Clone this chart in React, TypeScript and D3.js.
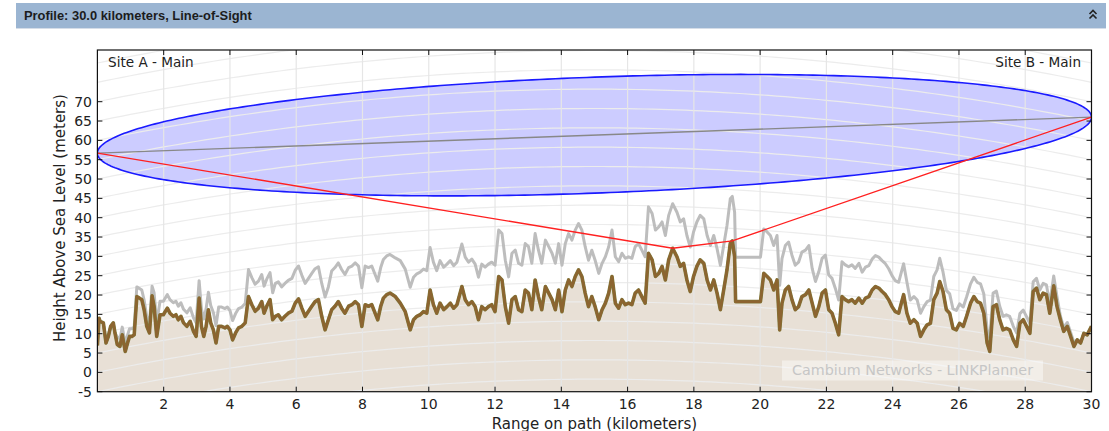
import React, { useEffect, useRef } from "react";
import * as d3 from "d3";

// terrain profile: [range km, height m]
const terrain: [number, number][] = [
  [0, 7.0], [0.05, 14.0], [0.08, 13.2], [0.18, 12.8], [0.26, 7.6], [0.33, 9.3], [0.4, 11.9], [0.48, 12.8],
  [0.53, 10.2], [0.6, 7.2], [0.68, 6.7], [0.75, 9.7], [0.84, 5.4], [0.91, 7.6], [0.97, 9.3], [1.04, 9.3],
  [1.11, 9.7], [1.19, 19.6], [1.27, 19.2], [1.34, 18.8], [1.41, 16.2], [1.49, 11.9], [1.57, 10.2], [1.65, 19.8],
  [1.71, 17.1], [1.79, 9.3], [1.89, 14.9], [1.99, 14.9], [2.11, 16.6], [2.19, 15.3], [2.29, 14.5], [2.37, 14.9],
  [2.44, 13.6], [2.52, 14.5], [2.6, 12.8], [2.7, 11.9], [2.8, 13.2], [2.9, 10.6], [2.98, 9.3], [3.07, 19.2],
  [3.14, 11.9], [3.21, 9.3], [3.28, 11.9], [3.35, 16.2], [3.42, 12.8], [3.5, 11.0], [3.58, 7.6], [3.66, 11.9],
  [3.75, 11.9], [3.85, 11.5], [3.92, 11.9], [4.0, 11.0], [4.08, 8.4], [4.17, 10.2], [4.26, 11.5], [4.36, 11.9],
  [4.46, 12.8], [4.56, 19.6], [4.66, 17.5], [4.76, 15.8], [4.86, 16.6], [4.96, 18.3], [5.03, 15.3], [5.11, 17.1],
  [5.21, 18.8], [5.29, 13.6], [5.37, 14.5], [5.46, 14.9], [5.56, 13.6], [5.66, 14.5], [5.76, 15.3], [5.87, 15.8],
  [5.97, 17.9], [6.07, 19.0], [6.17, 16.6], [6.27, 14.5], [6.37, 15.8], [6.47, 17.1], [6.57, 18.3], [6.67, 18.8],
  [6.77, 14.5], [6.87, 11.0], [6.97, 13.6], [7.07, 16.2], [7.17, 17.1], [7.27, 18.3], [7.37, 16.6], [7.47, 15.3],
  [7.58, 17.1], [7.68, 17.5], [7.78, 18.3], [7.88, 17.5], [7.98, 11.9], [8.08, 17.5], [8.18, 17.1], [8.28, 17.5],
  [8.38, 15.3], [8.46, 13.6], [8.55, 17.1], [8.63, 19.2], [8.73, 20.1], [8.83, 20.5], [8.99, 19.6], [9.14, 17.9],
  [9.29, 15.7], [9.44, 11.0], [9.54, 13.6], [9.64, 14.5], [9.74, 14.9], [9.84, 15.7], [9.94, 15.3], [10.04, 21.3],
  [10.14, 17.5], [10.24, 15.3], [10.34, 17.9], [10.45, 16.2], [10.55, 17.0], [10.65, 17.9], [10.75, 16.6], [10.85, 17.5],
  [11.0, 22.2], [11.1, 18.8], [11.2, 17.5], [11.3, 18.3], [11.4, 17.0], [11.5, 13.6], [11.6, 17.0], [11.7, 16.2],
  [11.8, 17.0], [11.9, 17.5], [12.0, 15.7], [12.11, 24.8], [12.21, 23.9], [12.31, 17.0], [12.41, 12.7], [12.51, 18.8],
  [12.61, 19.6], [12.71, 16.2], [12.81, 15.7], [12.91, 21.3], [13.01, 20.5], [13.11, 16.2], [13.21, 23.9], [13.31, 19.6],
  [13.41, 16.2], [13.52, 22.2], [13.62, 20.5], [13.72, 18.8], [13.82, 16.2], [13.92, 21.3], [14.02, 15.7], [14.12, 21.3],
  [14.22, 23.9], [14.32, 22.2], [14.42, 24.8], [14.52, 26.5], [14.62, 24.8], [14.72, 20.5], [14.82, 17.0], [14.92, 19.6],
  [15.02, 17.0], [15.13, 13.6], [15.23, 16.2], [15.33, 17.9], [15.43, 20.5], [15.53, 24.8], [15.63, 17.9], [15.73, 16.6],
  [15.83, 18.8], [15.93, 17.5], [16.03, 17.9], [16.13, 17.5], [16.23, 20.5], [16.33, 21.3], [16.43, 19.6], [16.53, 17.9],
  [16.63, 30.8], [16.74, 29.1], [16.84, 24.8], [16.94, 25.6], [17.04, 27.4], [17.14, 23.9], [17.24, 29.1], [17.36, 32.1],
  [17.49, 29.9], [17.59, 27.4], [17.69, 28.2], [17.79, 23.9], [17.89, 20.9], [17.99, 24.8], [18.09, 27.4], [18.19, 29.1],
  [18.3, 28.2], [18.4, 23.9], [18.5, 21.3], [18.6, 23.9], [18.7, 20.5], [18.8, 16.2], [18.9, 21.3], [19.0, 26.5],
  [19.1, 33.4], [19.16, 34.0], [19.23, 29.9], [19.26, 18.3], [20.01, 18.3], [20.11, 25.6], [20.21, 24.8], [20.31, 23.9],
  [20.41, 21.3], [20.51, 23.9], [20.59, 11.0], [20.66, 17.9], [20.76, 21.3], [20.86, 22.2], [20.96, 18.8], [21.06, 16.2],
  [21.16, 17.0], [21.26, 19.6], [21.37, 20.1], [21.47, 21.3], [21.57, 17.9], [21.67, 14.5], [21.77, 17.0], [21.87, 20.5],
  [21.97, 21.3], [22.07, 16.2], [22.17, 15.3], [22.27, 12.7], [22.37, 9.7], [22.47, 19.6], [22.57, 18.8], [22.67, 18.3],
  [22.77, 18.8], [22.87, 17.9], [22.98, 19.2], [23.08, 17.9], [23.18, 19.2], [23.28, 19.6], [23.38, 21.3], [23.48, 22.2],
  [23.58, 21.8], [23.68, 20.9], [23.78, 20.1], [23.88, 18.8], [23.98, 17.0], [24.08, 15.7], [24.18, 15.3], [24.33, 20.1],
  [24.43, 15.3], [24.53, 12.7], [24.64, 13.6], [24.74, 12.7], [24.84, 9.3], [24.94, 11.0], [25.04, 12.3], [25.14, 12.7],
  [25.24, 18.8], [25.34, 20.5], [25.42, 23.5], [25.52, 20.9], [25.62, 16.2], [25.72, 15.3], [25.82, 11.4], [25.92, 11.0],
  [26.02, 12.7], [26.13, 11.9], [26.23, 14.5], [26.35, 17.9], [26.45, 19.6], [26.55, 18.3], [26.65, 17.9], [26.75, 15.3],
  [26.85, 7.6], [26.93, 5.4], [27.03, 17.0], [27.13, 17.5], [27.23, 13.6], [27.33, 11.0], [27.43, 11.4], [27.53, 11.0],
  [27.64, 8.4], [27.74, 6.7], [27.84, 12.7], [27.94, 13.6], [28.04, 11.9], [28.14, 10.1], [28.24, 20.9], [28.34, 21.8],
  [28.44, 18.8], [28.54, 20.5], [28.64, 20.1], [28.74, 15.3], [28.86, 22.4], [28.96, 17.0], [29.06, 13.6], [29.16, 10.6],
  [29.27, 11.9], [29.37, 9.3], [29.47, 6.7], [29.57, 8.4], [29.67, 7.6], [29.77, 10.1], [29.87, 9.7], [30.0, 11.9],
];

// clutter (obstruction) height on top of terrain: [from km, to km, height m]
const clutter: [number, number, number][] = [
  [0, 0.55, 0], [0.55, 1.15, 2], [1.15, 1.7, 2.5], [1.7, 3.0, 3.5], [3.0, 3.6, 4.5], [3.6, 4.5, 5],
  [4.5, 5.3, 7], [5.3, 7.0, 8.5], [7.0, 9.0, 10], [9.0, 12.0, 11], [12.0, 17.0, 12], [17.0, 21.5, 11.5],
  [21.5, 23.0, 9], [23.0, 24.5, 8], [24.5, 25.5, 6], [25.5, 26.8, 5], [26.8, 27.8, 3.5], [27.8, 29.0, 2.5],
  [29.0, 29.5, 1], [29.5, 30.01, 0],
];

const siteNames = ["Site A - Main", "Site B - Main"];
const antennaHeights = [56.7, 66.0];
const pathLength = 30;
const fresnelMidRadius = 15; // m at mid path
const diffractionPath: [number, number][] = [[0, 56.7], [17.36, 32.1], [19.16, 34.0], [30, 66.0]];
const xTicks = [2, 4, 6, 8, 10, 12, 14, 16, 18, 20, 22, 24, 26, 28, 30];
const yTicks = [-5, 0, 5, 10, 15, 20, 25, 30, 35, 40, 45, 50, 55, 60, 65, 70];
const kFactor = 4 / 3;
const earthRadiusKm = 6371;

const FONT = "DejaVu Sans, sans-serif";

function bulge(d: number) {
  return ((d * (pathLength - d)) / (2 * kFactor * earthRadiusKm)) * 1000;
}

function clutterAt(d: number) {
  const c = clutter.find((s) => d >= s[0] && d < s[1]);
  return c ? c[2] : 0;
}

function App() {
  const svgRef = useRef<SVGSVGElement>(null);
  const W = 1109;
  const H = 431;
  const left = 97.4, right = 1091.5, top = 50, bottom = 391.7;

  useEffect(() => {
    const svg = d3.select(svgRef.current);
    svg.selectAll("*").remove();

    // header bar
    svg.append("rect").attr("x", 16).attr("y", 3).attr("width", 1090).attr("height", 25).attr("fill", "#9bb5d2");
    svg.append("line").attr("x1", 16).attr("x2", 1106).attr("y1", 28.5).attr("y2", 28.5).attr("stroke", "#d5dde8");
    svg.append("text").attr("x", 24).attr("y", 20)
      .attr("font-family", "Liberation Sans, Arial, sans-serif").attr("font-weight", "bold").attr("font-size", 12.9)
      .attr("fill", "#1c1c1c").text("Profile: 30.0 kilometers, Line-of-Sight");
    svg.append("path").attr("d", "M1089.5,14 L1093,10.5 L1096.5,14 M1089.5,18.5 L1093,15 L1096.5,18.5")
      .attr("fill", "none").attr("stroke", "#222").attr("stroke-width", 1.6);

    const x = d3.scaleLinear().domain([0, pathLength]).range([left, right]);
    const y = d3.scaleLinear().domain([-5, 83.37]).range([bottom, top]);

    svg.append("defs").append("clipPath").attr("id", "plotclip")
      .append("rect").attr("x", left).attr("y", top).attr("width", right - left).attr("height", bottom - top);

    const g = svg.append("g").attr("clip-path", "url(#plotclip)");

    // terrain fill
    const area = d3.area<[number, number]>().x((d) => x(d[0])).y0(bottom).y1((d) => y(d[1]));
    g.append("path").datum(terrain).attr("d", area).attr("fill", "#e8e0d6");

    // fresnel zone
    const steps = d3.range(0, 201).map((i) => (pathLength / 2) * (1 - Math.cos((Math.PI * i) / 200)));
    const los = (d: number) => antennaHeights[0] + ((antennaHeights[1] - antennaHeights[0]) * d) / pathLength;
    const rad = (d: number) => (fresnelMidRadius * Math.sqrt(Math.max(0, d * (pathLength - d)))) / (pathLength / 2);
    const upper = steps.map((d) => [x(d), y(los(d) + rad(d))] as [number, number]);
    const lower = steps.slice().reverse().map((d) => [x(d), y(los(d) - rad(d))] as [number, number]);
    const ellipse = upper.concat(lower);
    g.append("path").attr("d", d3.line()(ellipse) + "Z").attr("fill", "#ccccff");

    // curved (earth) grid lines
    const gridSteps = d3.range(0, pathLength + 0.001, 0.25);
    const curve = d3.line<number>().x((d) => x(d));
    for (let h = -30; h <= 85; h += 5) {
      g.append("path").datum(gridSteps)
        .attr("d", curve.y((d) => y(h + bulge(d))))
        .attr("fill", "none").attr("stroke", "#ececec").attr("stroke-width", 1.2);
    }
    xTicks.forEach((t) => {
      g.append("line").attr("x1", x(t)).attr("x2", x(t)).attr("y1", top).attr("y2", bottom)
        .attr("stroke", "#e6e6e6").attr("stroke-width", 1.2);
    });

    const line = d3.line<[number, number]>().x((d) => x(d[0])).y((d) => y(d[1]));

    // terrain + clutter
    const withClutter = terrain.map((p) => [p[0], p[1] + clutterAt(p[0])] as [number, number]);
    g.append("path").datum(withClutter).attr("d", line).attr("fill", "none")
      .attr("stroke", "#bdbdbd").attr("stroke-width", 3).attr("stroke-linejoin", "round");
    g.append("path").datum(terrain).attr("d", line).attr("fill", "none")
      .attr("stroke", "#7f7838").attr("stroke-width", 3.6).attr("stroke-linejoin", "round");
    g.append("path").datum(terrain).attr("d", line).attr("fill", "none")
      .attr("stroke", "#8c6430").attr("stroke-width", 2.6).attr("stroke-linejoin", "round");

    // line of sight
    g.append("line").attr("x1", x(0)).attr("y1", y(antennaHeights[0])).attr("x2", x(pathLength)).attr("y2", y(antennaHeights[1]))
      .attr("stroke", "#888").attr("stroke-width", 1.4);

    g.append("path").attr("d", d3.line()(ellipse) + "Z").attr("fill", "none")
      .attr("stroke", "#1a1aff").attr("stroke-width", 1.6);

    g.append("path").datum(diffractionPath).attr("d", line).attr("fill", "none")
      .attr("stroke", "#ff2020").attr("stroke-width", 1.3);

    // watermark
    g.append("rect").attr("x", 782).attr("y", 360.5).attr("width", 261).attr("height", 20)
      .attr("fill", "#ffffff").attr("fill-opacity", 0.45);
    g.append("text").attr("x", 912.5).attr("y", 375).attr("text-anchor", "middle")
      .attr("font-family", FONT).attr("font-size", 14.3).attr("fill", "#c6c6c6")
      .text("Cambium Networks - LINKPlanner");

    // frame and ticks
    svg.append("rect").attr("x", left).attr("y", top).attr("width", right - left).attr("height", bottom - top)
      .attr("fill", "none").attr("stroke", "#111").attr("stroke-width", 1.2);
    xTicks.forEach((t) => {
      svg.append("line").attr("x1", x(t)).attr("x2", x(t)).attr("y1", bottom).attr("y2", bottom - 5).attr("stroke", "#111");
      svg.append("line").attr("x1", x(t)).attr("x2", x(t)).attr("y1", top).attr("y2", top + 5).attr("stroke", "#111");
      svg.append("text").attr("x", x(t)).attr("y", 409).attr("text-anchor", "middle")
        .attr("font-family", FONT).attr("font-size", 14).attr("fill", "#222").text(String(t));
    });
    yTicks.forEach((t) => {
      svg.append("line").attr("x1", left).attr("x2", left + 5).attr("y1", y(t)).attr("y2", y(t)).attr("stroke", "#111");
      svg.append("line").attr("x1", right).attr("x2", right - 5).attr("y1", y(t)).attr("y2", y(t)).attr("stroke", "#111");
      svg.append("text").attr("x", 92).attr("y", y(t) + 5).attr("text-anchor", "end")
        .attr("font-family", FONT).attr("font-size", 14).attr("fill", "#222").text(String(t));
    });

    svg.append("text").attr("x", 108).attr("y", 66.5).attr("font-family", FONT).attr("font-size", 13.6)
      .attr("fill", "#222").text(siteNames[0]);
    svg.append("text").attr("x", 1081).attr("y", 66.5).attr("text-anchor", "end").attr("font-family", FONT)
      .attr("font-size", 13.6).attr("fill", "#222").text(siteNames[1]);

    svg.append("text").attr("x", (left + right) / 2).attr("y", 428.5).attr("text-anchor", "middle")
      .attr("font-family", FONT).attr("font-size", 15).attr("fill", "#222").text("Range on path (kilometers)");
    svg.append("text").attr("transform", "translate(65,218) rotate(-90)").attr("text-anchor", "middle")
      .attr("font-family", FONT).attr("font-size", 15).attr("fill", "#222").text("Height Above Sea Level (meters)");
  }, []);

  return (
    <svg ref={svgRef} width={W} height={H}
      style={{ position: "absolute", left: 0, top: 0, background: "#fff" }}></svg>
  );
}

export default App;
